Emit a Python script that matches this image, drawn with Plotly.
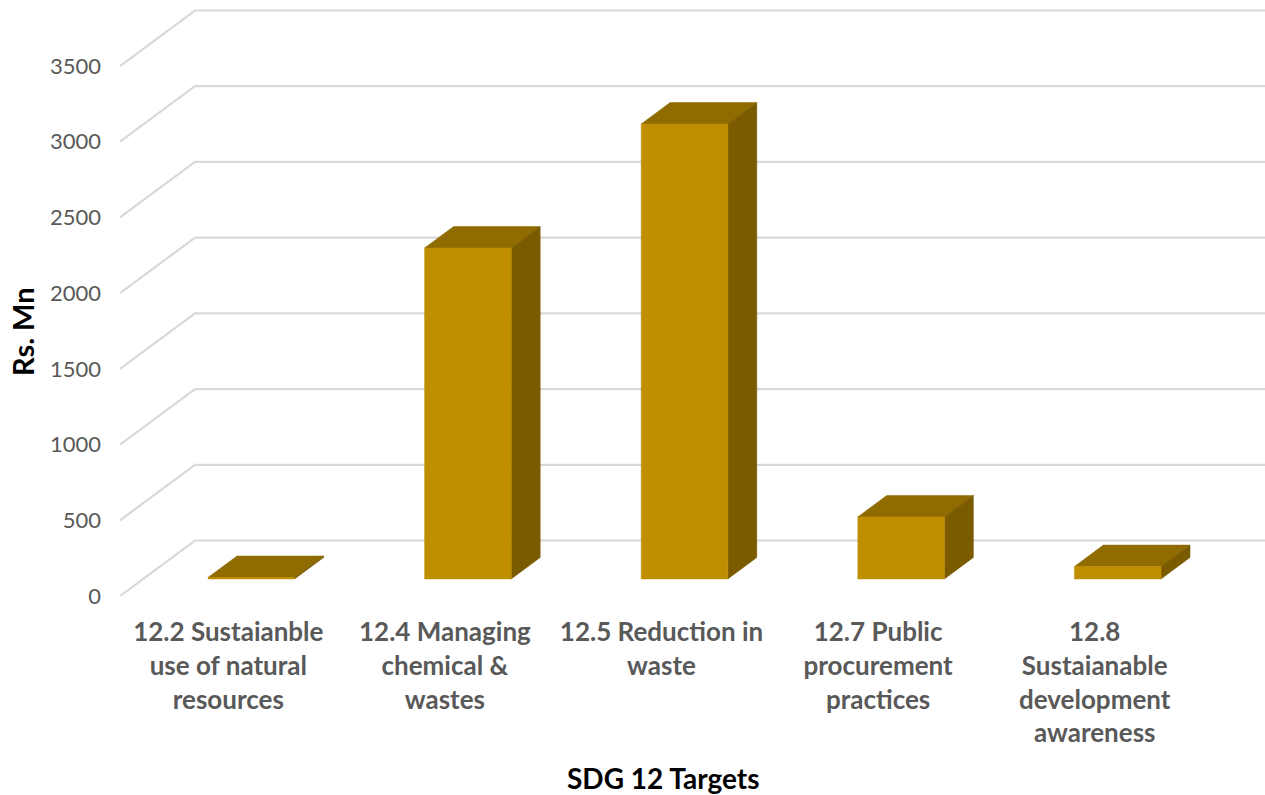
import plotly.graph_objects as go

categories = ["12.2 Sustaianble<br>use of natural<br>resources",
              "12.4 Managing<br>chemical &<br>wastes",
              "12.5 Reduction in<br>waste",
              "12.7 Public<br>procurement<br>practices",
              "12.8<br>Sustaianable<br>development<br>awareness"]
values = [10, 2186, 3005, 410, 82]
y_ticks = [0, 500, 1000, 1500, 2000, 2500, 3000, 3500]

W, H = 1265, 795
L, B = 120, 199
CAT_PX = 216.6
PX_PER_UNIT = 530 / 3500
X0 = -0.5
X1 = X0 + (W - L) / CAT_PX
Y1 = (H - B) / PX_PER_UNIT
DEPTH_X = 75 / CAT_PX
DEPTH_Y = 55.5 / PX_PER_UNIT
BAR_FRONT = 0.307      # bar front, as a share of the floor depth
BAR_DEPTH = 0.386      # bar depth, as a share of the floor depth
BAR_W = 0.4
GRID = "#D9D9D9"
FRONT, TOP, SIDE = "#BF8F00", "#8F6B00", "#7A5B00"

fig = go.Figure()


def add_line(xs, ys):
    fig.add_trace(go.Scatter(x=xs, y=ys, mode="lines", showlegend=False, hoverinfo="skip",
                             line=dict(color=GRID, width=2.2)))


def add_face(xs, ys, color):
    fig.add_trace(go.Scatter(x=xs, y=ys, mode="lines", fill="toself", fillcolor=color,
                             showlegend=False, hoverinfo="skip",
                             line=dict(color=color, width=0.5)))


for t in y_ticks:
    add_line([X0, X0 + DEPTH_X, X1], [t, t + DEPTH_Y, t + DEPTH_Y])

for i, v in enumerate(values):
    ox = BAR_FRONT * DEPTH_X
    oy = BAR_FRONT * DEPTH_Y
    dx = BAR_DEPTH * DEPTH_X
    dy = BAR_DEPTH * DEPTH_Y
    xl, xr = i - BAR_W / 2 + ox, i + BAR_W / 2 + ox
    yb, yt = oy, oy + v
    add_face([xl, xl + dx, xr + dx, xr, xl], [yt, yt + dy, yt + dy, yt, yt], TOP)
    add_face([xr, xr + dx, xr + dx, xr, xr], [yb, yb + dy, yt + dy, yt, yb], SIDE)
    add_face([xl, xr, xr, xl, xl], [yb, yb, yt, yt, yb], FRONT)

fig.update_layout(
    width=W, height=H, margin=dict(l=L, r=0, t=0, b=B, autoexpand=False),
    paper_bgcolor="white", plot_bgcolor="white", showlegend=False,
    font=dict(family="Lato", color="#595959"),
    xaxis=dict(range=[X0, X1], tickmode="array", tickvals=list(range(len(categories))),
               ticktext=[f"<b>{c}</b>".replace("<br>", "</b><br><b>") for c in categories],
               showgrid=False, zeroline=False, showline=False, ticks="",
               tickfont=dict(size=26, family="Lato", color="#595959"),
               tickangle=0, ticklabelstandoff=18, automargin=False),
    yaxis=dict(range=[0, Y1], tickmode="array", tickvals=y_ticks,
               ticktext=[str(t) for t in y_ticks],
               showgrid=False, zeroline=False, showline=False, ticks="",
               tickfont=dict(size=22, family="Lato", color="#595959"),
               ticklabelstandoff=18, automargin=False),
    annotations=[
        dict(text="<b>SDG 12 Targets</b>", xref="paper", yref="paper", x=(663 - L) / (W - L),
             y=-(778 - (H - B)) / (H - B), xanchor="center", yanchor="middle", showarrow=False,
             font=dict(size=28, family="Lato", color="black")),
        dict(text="<b>Rs. Mn</b>", xref="paper", yref="paper", x=-(L - 22) / (W - L),
             y=(H - B - 332) / (H - B), xanchor="center", yanchor="middle", showarrow=False,
             textangle=-90, font=dict(size=29, family="Lato", color="black")),
    ],
)

fig.write_html("out.html", config={"displayModeBar": False},
               post_script="document.body.style.margin='0';")
